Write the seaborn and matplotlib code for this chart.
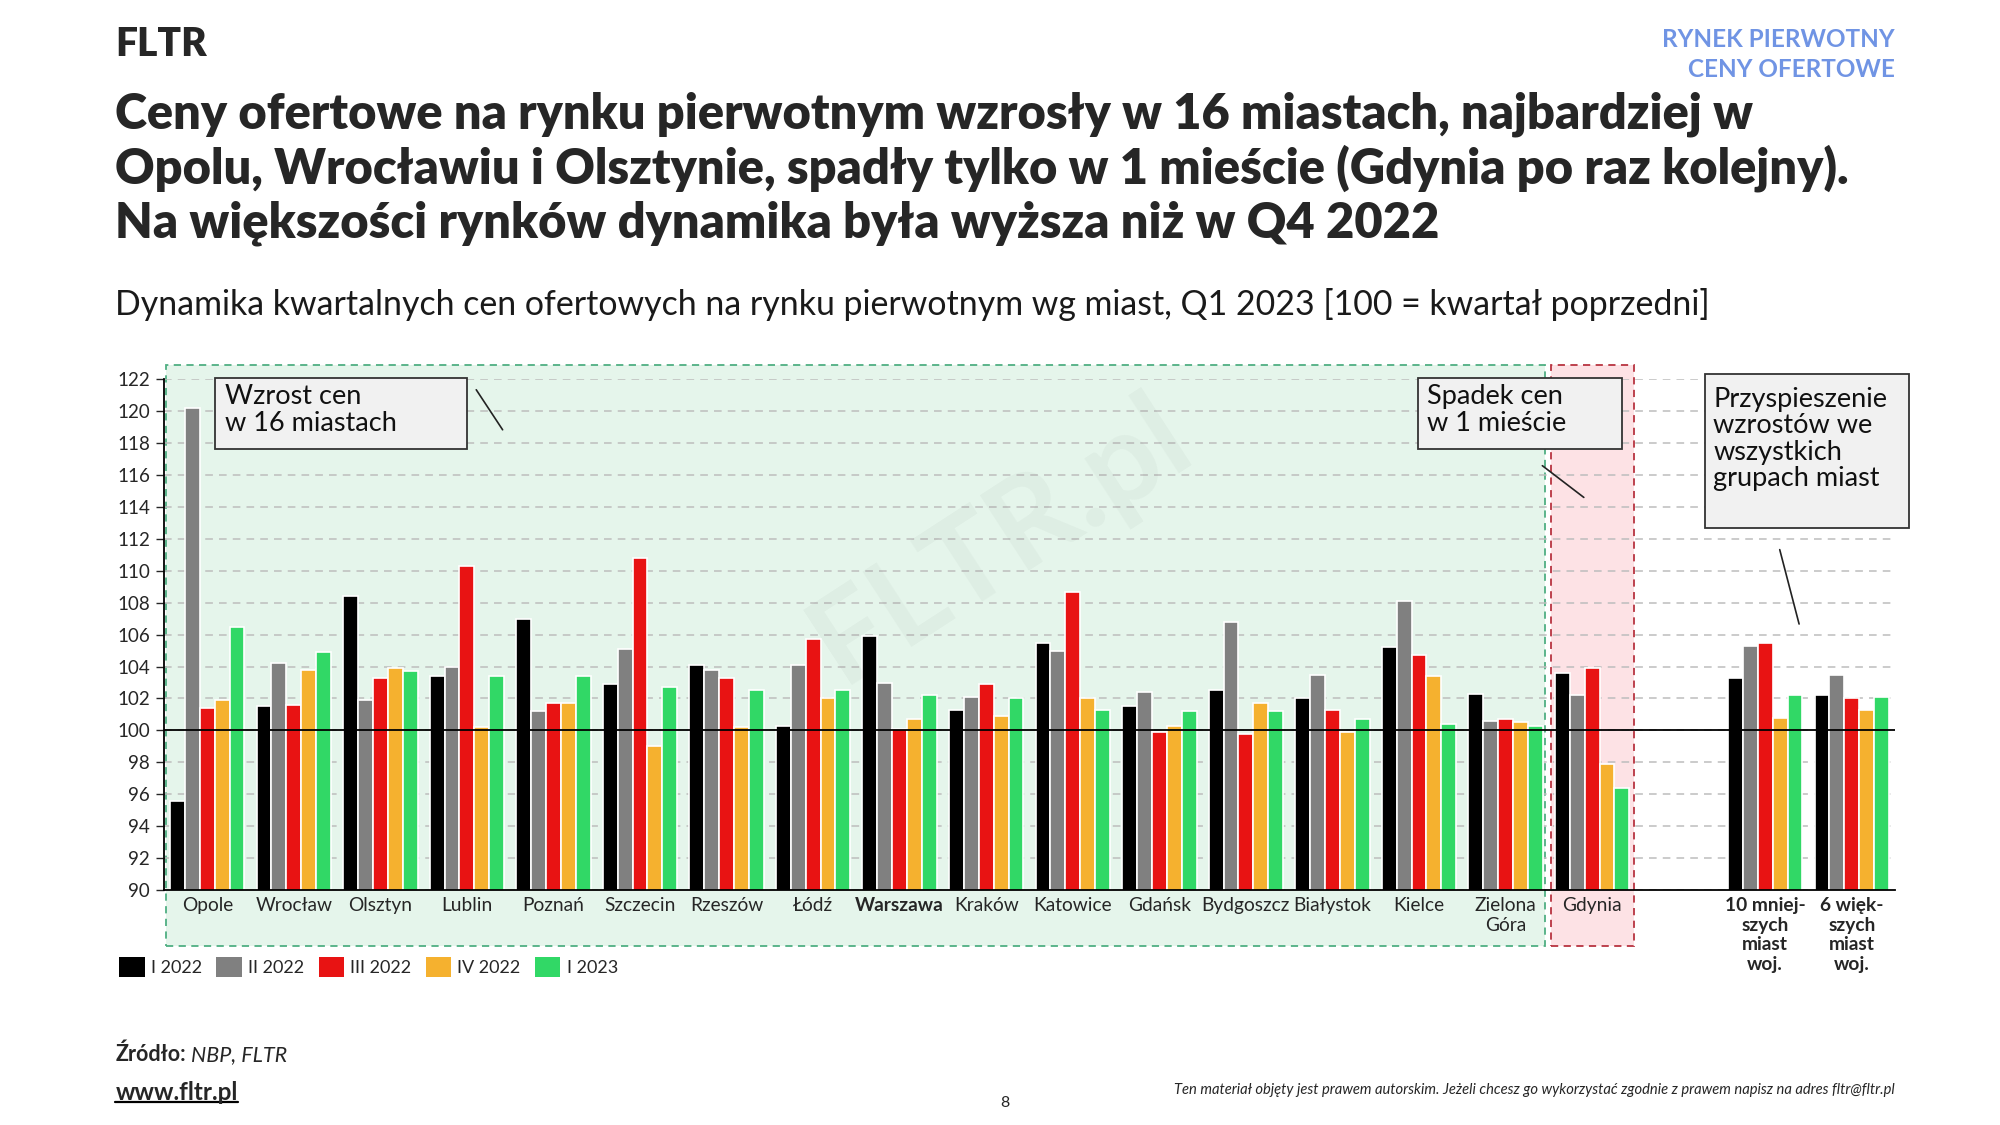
import numpy as np
import pandas as pd
import matplotlib
matplotlib.use("Agg")
import matplotlib.pyplot as plt
from matplotlib.patches import Rectangle, Patch
from matplotlib.lines import Line2D
import seaborn as sns

# --- data -------------------------------------------------------------
cities = ["Opole", "Wrocław", "Olsztyn", "Lublin", "Poznań", "Szczecin",
          "Rzeszów", "Łódź", "Warszawa", "Kraków", "Katowice", "Gdańsk",
          "Bydgoszcz", "Białystok", "Kielce", "Zielona Góra", "Gdynia",
          "10 mniejszych miast woj.", "6 większych miast woj."]
tick_labels = ["Opole", "Wrocław", "Olsztyn", "Lublin", "Poznań", "Szczecin",
               "Rzeszów", "Łódź", "Warszawa", "Kraków", "Katowice", "Gdańsk",
               "Bydgoszcz", "Białystok", "Kielce", "Zielona\nGóra", "Gdynia",
               "", "10 mniej-\nszych\nmiast\nwoj.", "6 więk-\nszych\nmiast\nwoj."]
bold_labels = ["Warszawa", "10 mniej-\nszych\nmiast\nwoj.", "6 więk-\nszych\nmiast\nwoj."]
quarters = ["I 2022", "II 2022", "III 2022", "IV 2022", "I 2023"]

q1_2022 = [95.6, 101.5, 108.4, 103.4, 107.0, 102.9, 104.1, 100.3, 105.9, 101.3,
           105.5, 101.5, 102.5, 102.0, 105.2, 102.3, 103.6, 103.3, 102.2]
q2_2022 = [120.2, 104.2, 101.9, 104.0, 101.2, 105.1, 103.8, 104.1, 103.0, 102.1,
           105.0, 102.4, 106.8, 103.5, 108.1, 100.6, 102.2, 105.3, 103.5]
q3_2022 = [101.4, 101.6, 103.3, 110.3, 101.7, 110.8, 103.3, 105.7, 100.1, 102.9,
           108.7, 99.9, 99.8, 101.3, 104.7, 100.7, 103.9, 105.5, 102.0]
q4_2022 = [101.9, 103.8, 103.9, 100.2, 101.7, 99.0, 100.2, 102.0, 100.7, 100.9,
           102.0, 100.3, 101.7, 99.9, 103.4, 100.5, 97.9, 100.8, 101.3]
q1_2023 = [106.5, 104.9, 103.7, 103.4, 103.4, 102.7, 102.5, 102.5, 102.2, 102.0,
           101.3, 101.2, 101.2, 100.7, 100.4, 100.3, 96.4, 102.2, 102.1]

colors = ["#000000", "#808080", "#E81313", "#F5B12F", "#31D866"]

df = pd.DataFrame({
    "city": cities * 5,
    "quarter": np.repeat(quarters, len(cities)),
    "value": q1_2022 + q2_2022 + q3_2022 + q4_2022 + q1_2023,
})
order = cities[:17] + [" "] + cities[17:]

# --- figure -------------------------------------------------------------
sns.set_style("white")
plt.rcParams["font.family"] = ["Lato", "DejaVu Sans"]

fig = plt.figure(figsize=(20, 11.25), dpi=100)
ax = fig.add_axes([0.082, 0.209, 0.8655, 0.4537])

# highlighted regions (green = growth, pink = decline)
ax.add_patch(Rectangle((-0.475, 86.5), 15.935, 36.4, facecolor="#E5F5EB",
                       edgecolor="#4FAF82", linestyle=(0, (4, 3)), lw=1.3,
                       zorder=0, clip_on=False))
ax.add_patch(Rectangle((15.52, 86.5), 0.96, 36.4, facecolor="#FDE2E5",
                       edgecolor="#B83440", linestyle=(0, (4, 3)), lw=1.3,
                       zorder=0, clip_on=False))

sns.barplot(data=df, x="city", y="value", hue="quarter", order=order,
            hue_order=quarters, palette=colors, saturation=1, width=0.86,
            edgecolor="white", linewidth=1.2, legend=False, ax=ax, zorder=2)

ax.set_xlim(-0.5, 19.5)
ax.set_ylim(90, 122)
ax.set_yticks(np.arange(90, 123, 2))
ax.yaxis.grid(True, linestyle=(0, (5, 4)), color="#BDBDBD", lw=1.1)
ax.set_axisbelow(True)
ax.axhline(100, color="black", lw=1.3, zorder=3)

ax.set_xticks(range(len(tick_labels)))
ax.set_xticklabels(tick_labels, fontsize=13.8, linespacing=1.2, va="top")
for lab in ax.get_xticklabels():
    if lab.get_text() in bold_labels:
        lab.set_fontweight("bold")
ax.tick_params(axis="x", length=0, pad=5)
ax.tick_params(axis="y", length=6, width=1, labelsize=13.5, pad=4, left=True)
ax.set_xlabel("")
ax.set_ylabel("")
for s in ["top", "right"]:
    ax.spines[s].set_visible(False)
for s in ["left", "bottom"]:
    ax.spines[s].set_color("black")
    ax.spines[s].set_linewidth(1.3)

# annotation boxes
boxes = [
    ((0.09, 117.66), 2.91, 4.42, "Wzrost cen\nw 16 miastach", (0.21, 121.7)),
    ((13.99, 117.66), 2.35, 4.42, "Spadek cen\nw 1 mieście", (14.09, 121.7)),
    ((17.3, 112.68), 2.36, 9.64, "Przyspieszenie\nwzrostów we\nwszystkich\ngrupach miast",
     (17.4, 121.55)),
]
for (x0, y0), w, h, txt, (tx, ty) in boxes:
    ax.add_patch(Rectangle((x0, y0), w, h, facecolor="#F1F1F1", edgecolor="#333333",
                           lw=1.3, zorder=4, clip_on=False))
    ax.text(tx, ty, txt, ha="left", va="top", fontsize=19.5, linespacing=1.08,
            color="#111111", zorder=5, clip_on=False)

leaders = [((3.09, 121.5), (3.43, 118.7)),
           ((15.4, 116.7), (15.93, 114.5)),
           ((18.16, 111.5), (18.4, 106.5))]
for p0, p1 in leaders:
    ax.annotate("", xy=p1, xytext=p0,
                arrowprops=dict(arrowstyle="-", color="#222222", lw=1.2))

# watermark
fig.text(0.5, 0.52, "FLTR.pl", fontsize=90, fontweight="bold", color="black",
         alpha=0.03, rotation=33, ha="center", va="center")

# legend
handles = [Patch(facecolor=c, edgecolor="none") for c in colors]
fig.legend(handles, quarters, loc="center left", bbox_to_anchor=(0.056, 0.1405),
           ncol=5, frameon=False, fontsize=13, handlelength=1.4, handleheight=1.3,
           handletextpad=0.35, columnspacing=0.8, borderaxespad=0)

# texts
fig.text(0.0577, 0.96, "FLTR", fontsize=28, fontweight="heavy", va="center")
fig.text(0.9475, 0.9645, "RYNEK PIERWOTNY", fontsize=17.5, fontweight="bold",
         color="#7094E4", ha="right", va="center")
fig.text(0.9475, 0.9385, "CENY OFERTOWE", fontsize=17.5, fontweight="bold",
         color="#7094E4", ha="right", va="center")
title_lines = ["Ceny ofertowe na rynku pierwotnym wzrosły w 16 miastach, najbardziej w",
               "Opolu, Wrocławiu i Olsztynie, spadły tylko w 1 mieście (Gdynia po raz kolejny).",
               "Na większości rynków dynamika była wyższa niż w Q4 2022"]
for y, line in zip([0.8987, 0.8507, 0.8018], title_lines):
    fig.text(0.0577, y, line, fontsize=35.1, fontweight="heavy", va="center")
fig.text(0.0577, 0.729,
         "Dynamika kwartalnych cen ofertowych na rynku pierwotnym wg miast, Q1 2023 [100 = kwartał poprzedni]",
         fontsize=24.4, va="center", color="#1a1a1a")

src = fig.text(0.0577, 0.063, "Źródło:", fontsize=15.5, fontweight="bold", va="center")
plt.annotate(" NBP, FLTR", xy=(1, 0), xycoords=src, va="bottom", ha="left",
             fontsize=15.5, style="italic")
www = fig.text(0.0577, 0.029, "www.fltr.pl", fontsize=17.5, fontweight="bold", va="center")
fig.text(0.5025, 0.0197, "8", fontsize=11.5, ha="center", va="center")
fig.text(0.9475, 0.031,
         "Ten materiał objęty jest prawem autorskim. Jeżeli chcesz go wykorzystać zgodnie z prawem napisz na adres fltr@fltr.pl",
         fontsize=10.6, style="italic", ha="right", va="center")

# underline for the web address
fig.canvas.draw()
bb = www.get_window_extent().transformed(fig.transFigure.inverted())
fig.add_artist(Line2D([bb.x0, bb.x1], [bb.y0 + 0.002, bb.y0 + 0.002],
                      color="black", lw=1.6, transform=fig.transFigure))

fig.savefig("out.png", dpi=100)
